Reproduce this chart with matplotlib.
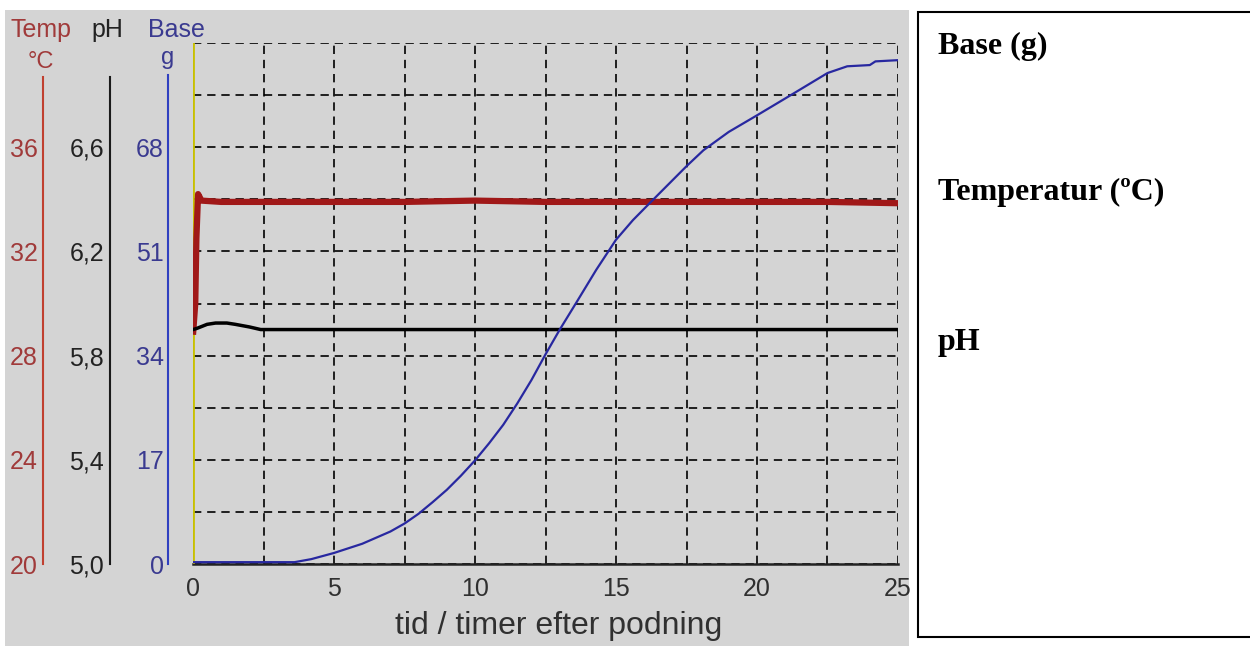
import matplotlib
matplotlib.use("Agg")
import matplotlib.pyplot as plt
from matplotlib.patches import Rectangle
from matplotlib.ticker import FixedLocator, FixedFormatter

# data
tid_base = [0, 1, 2, 3, 3.6, 4.2, 5, 6, 7, 7.5, 8, 8.5, 9, 9.5, 10, 10.5, 11, 11.5,
            12, 12.5, 13, 13.6, 14.3, 15, 15.6, 16.2, 17.5, 18.1, 19, 20, 21.2, 22.5,
            23.2, 24.0, 24.2, 25]
base_g = [0.3, 0.3, 0.3, 0.3, 0.3, 0.8, 1.8, 3.3, 5.3, 6.6, 8.2, 10.1, 12.1, 14.4,
          16.9, 19.7, 22.7, 26.2, 30.0, 34.2, 38.2, 42.7, 48.0, 52.9, 56.1, 58.9, 64.9,
          67.5, 70.5, 73.2, 76.5, 80.1, 81.2, 81.4, 82.0, 82.2]

tid_temp = [0, 0.08, 0.12, 0.18, 0.3, 1, 2.5, 5, 7.5, 10, 12.5, 15, 17.5, 20, 22.5, 25]
temp_c = [28.8, 30.0, 32.5, 34.2, 33.95, 33.9, 33.9, 33.9, 33.9, 33.95, 33.9, 33.9,
          33.9, 33.9, 33.9, 33.85]

tid_ph = [0, 0.15, 0.5, 0.8, 1.2, 1.5, 2.0, 2.4, 3, 5, 10, 15, 20, 25]
ph = [5.90, 5.905, 5.92, 5.925, 5.925, 5.92, 5.91, 5.90, 5.90, 5.90, 5.90, 5.90, 5.90, 5.90]

x_ticks = [0, 5, 10, 15, 20, 25]
base_ticks = [0, 17, 34, 51, 68]
temp_ticks = [20, 24, 28, 32, 36]
ph_ticks = [5.0, 5.4, 5.8, 6.2, 6.6]
ph_labels = ["5,0", "5,4", "5,8", "6,2", "6,6"]

W, H = 1250, 646
grey = "#d4d4d4"
red_ax = "#c04030"
red_txt = "#a03a3a"
blue_ax = "#3040c0"
blue_txt = "#3a3a90"
font = "Liberation Sans"

fig = plt.figure(figsize=(W / 100, H / 100), dpi=100)
fig.patch.set_facecolor("white")

# grey panel of the screenshot and white box on the right
fig.patches.append(Rectangle((5 / W, 0), 904 / W, 1 - 10 / H, transform=fig.transFigure,
                             facecolor=grey, edgecolor="none", zorder=-5))
fig.patches.append(Rectangle((918 / W, 1 - 637 / H), 400 / W, (637 - 12) / H,
                             transform=fig.transFigure, facecolor="white",
                             edgecolor="black", lw=1.5, zorder=-5))

left, right, top, bottom = 193, 898, 43, 564
ax = fig.add_axes([left / W, 1 - bottom / H, (right - left) / W, (bottom - top) / H])
ax.set_facecolor(grey)
ax.set_xlim(0, 25)
ax.set_ylim(0, 85)

# grid
ax.xaxis.set_major_locator(FixedLocator(x_ticks))
ax.xaxis.set_minor_locator(FixedLocator([2.5, 7.5, 12.5, 17.5, 22.5]))
ax.yaxis.set_major_locator(FixedLocator(base_ticks))
ax.yaxis.set_minor_locator(FixedLocator([8.5, 25.5, 42.5, 59.5, 76.5, 85]))
ax.grid(True, which="both", color="black", lw=1.2, dashes=(5, 3.5))
ax.tick_params(axis="both", which="both", length=0)
ax.tick_params(axis="x", pad=9, labelsize=18, labelcolor="#303030")
for lab in ax.get_xticklabels():
    lab.set_family(font)

ax.spines["top"].set_visible(False)
ax.spines["right"].set_visible(False)
ax.spines["bottom"].set_color("#222222")
ax.spines["bottom"].set_linewidth(1.8)
# base scale on left
ax.spines["left"].set_position(("outward", 18))
ax.spines["left"].set_color(blue_ax)
ax.spines["left"].set_linewidth(1.5)
ax.spines["left"].set_bounds(0, 79.8)
ax.tick_params(axis="y", pad=3, labelsize=18, labelcolor=blue_txt)
for lab in ax.get_yticklabels():
    lab.set_family(font)
ax.axvline(0, color="#c8c000", lw=2, zorder=3)

# x label, a bit right of the axes centre as in the screenshot
fig.text(559 / W, 1 - 634 / H, "tid / timer efter podning", ha="center", va="baseline",
         fontsize=23, family=font, color="#303030")

# temperature scale
tax = ax.twinx()
tax.set_ylim(20, 40)
tax.yaxis.set_ticks_position("left")
for s in ["top", "right", "bottom"]:
    tax.spines[s].set_visible(False)
tax.spines["left"].set_visible(True)
tax.spines["left"].set_position(("outward", 108))
tax.spines["left"].set_color(red_ax)
tax.spines["left"].set_linewidth(1.5)
tax.spines["left"].set_bounds(20, 38.7)
tax.set_yticks(temp_ticks)
tax.tick_params(axis="y", length=0, pad=4, labelsize=18, labelcolor=red_txt)
for lab in tax.get_yticklabels():
    lab.set_family(font)
tax.plot(tid_temp, temp_c, color="#a01818", lw=4.5, solid_capstyle="butt")

# pH scale
pax = ax.twinx()
pax.set_ylim(5.0, 7.0)
pax.yaxis.set_ticks_position("left")
for s in ["top", "right", "bottom"]:
    pax.spines[s].set_visible(False)
pax.spines["left"].set_visible(True)
pax.spines["left"].set_position(("outward", 60))
pax.spines["left"].set_color("#1a1a1a")
pax.spines["left"].set_linewidth(1.5)
pax.spines["left"].set_bounds(5.0, 6.87)
pax.yaxis.set_major_locator(FixedLocator(ph_ticks))
pax.yaxis.set_major_formatter(FixedFormatter(ph_labels))
pax.tick_params(axis="y", length=0, pad=4, labelsize=18, labelcolor="#222222")
for lab in pax.get_yticklabels():
    lab.set_family(font)
pax.plot(tid_ph, ph, color="black", lw=2.5)

# base curve on top
bax = ax.twinx()
bax.set_ylim(0, 85)
bax.axis("off")
bax.plot(tid_base, base_g, color="#2828a0", lw=1.6)

# scale headers
for txt, xc, col in [("Temp", 41, red_txt), ("pH", 107, "#222222"), ("Base", 176, blue_txt)]:
    fig.text(xc / W, 1 - 37 / H, txt, ha="center", va="baseline", fontsize=18,
             family=font, color=col)
fig.text(41 / W, 1 - 68 / H, "°C", ha="center", va="baseline", fontsize=17,
         family=font, color=red_txt)
fig.text(168 / W, 1 - 64 / H, "g", ha="center", va="baseline", fontsize=17,
         family=font, color=blue_txt)

# labels in the white box
for txt, yb in [("Base (g)", 54), ("Temperatur (ºC)", 200), ("pH", 350)]:
    fig.text(938 / W, 1 - yb / H, txt, ha="left", va="baseline", fontsize=23,
             family="Liberation Serif", weight="bold", color="black")

fig.savefig("out.png", dpi=100, facecolor="white")
